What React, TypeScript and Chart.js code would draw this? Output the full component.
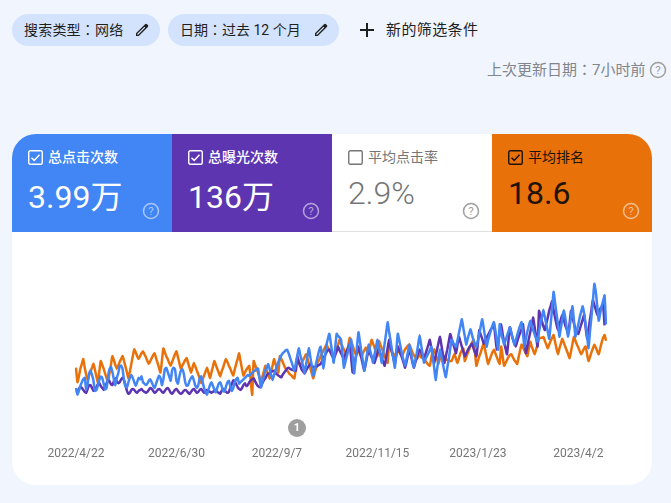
import React, { useEffect, useRef } from "react";
import { Chart, registerables } from "chart.js";

Chart.register(...registerables);

const startDate = "2022-04-22";
const tickLabels = ["2022/4/22", "2022/6/30", "2022/9/7", "2022/11/15", "2023/1/23", "2023/4/2"];
const tickIndexes = [0, 69, 138, 207, 276, 345];

const clicks = [
  52,43,48,55,60,64,66, 50,58,72,76,70,62,48, 49,55,63,68,66,58,50, 52,68,78,81,74,64,56,
  66,72,82,83,78,62,54, 53,60,66,70,66,60,55, 60,66,64,68,60,58,56, 58,62,64,60,55,52,58,
  64,69,66,56,64,78,80, 74,68,62,76,80,78,62, 58,68,76,78,72,60,55, 56,62,66,68,62,55,52,
  56,66,68,60,52,46,43, 50,56,60,55,50,46,52, 58,60,55,48,47,54,60, 62,54,48,52,60,64,66,
  58,60,62,64,66,68,70, 69,71,73,75,76,78,79, 66,53,60,68,76,80,85, 78,70,63,70,76,82,88,
  93,97,100,102,104,105,100,94,88,82,76,86,97,107,98,90,82,73,84,96,107,94,82,69,78,87,96,104,109,94,79,
  95,111,120,127,114,100,87,107,127,124,122,119,100,80,88,96,104,112,119,96,72,90,110,129,116,102,90,76,
  88,100,112,104,96,87,98,108,119,108,98,87,100,114,128,143,130,118,105,92,80,104,127,118,108,98,90,83,
  92,102,112,102,90,80,90,100,112,125,112,100,87,92,96,100,104,109,94,80,63,78,92,105,96,85,75,67,80,92,106,119,
  114,112,109,118,128,138,147,135,124,112,120,127,133,125,118,113,109,118,127,138,147,135,122,109,118,125,132,138,143,
  132,118,105,140,128,120,112,118,124,130,136,128,120,112,118,125,132,138,143,126,109,120,130,138,145,138,132,126,120,116,
  130,140,150,160,150,140,130,120,140,162,185,170,155,140,123,135,147,159,150,135,123,136,150,165,145,123,132,140,150,158,
  165,155,140,125,107,130,150,172,196,185,165,145,155,165,172,180,140,
];

const impressions = [
  1750,1800,1900,2000,1950,1850,1750, 1700,1900,2100,2100,1950,1800,1850, 2000,2150,2200,2050,1950,1850,2000,
  2200,2350,2300,2150,2100,2300,2450, 2300,2200,2250,2400,2500,2350,2100, 1800,1650,1700,1850,1900,1850,1750,
  1700,1800,1850,1900,1800,1750,1700, 1750,1850,1950,1900,1800,1700,1750, 1850,1900,1850,1750,1700,1800,1900,
  1950,1850,1700,1650,1750,1850,1900, 1800,1700,1650,1700,1800,1850,1800, 1700,1650,1750,1850,1900,1800,1700,
  1750,1850,1900,1800,1700,1750,1850, 1800,1750,1700,1750,1800,1850,1750, 1700,1650,1800,1900,1850,1750,1700,
  1750,1950,2150,2350,2300,2150,2000, 1900,1850,1950,2100,2200,2050,2100, 2250,2350,2400,2450,2300,2150,2050,
  2000,2000,2200,2350,2450,2600,2700, 2700,2780,2820,2850,2750,2650,2600,2550,2500,2650,2750,2850,2950,3000,
  2950,2900,2880,2860,2850,3600,3300,3100,2900,2800,2700,2850,3000,3100,3200,3100,3050,3000,3050,3100,3150,3200,
  3350,3500,3650,3800,3900,3950,3750,3600,3450,3650,3850,4100,3900,3750,3600,3450,3700,3900,4050,4200,3500,2750,
  3100,3500,3800,4100,3800,3500,3150,2850,3200,3600,3950,3750,3550,3400,3250,3500,3750,4000,3750,3500,3300,3100,
  3550,4000,4450,4100,3800,3500,3200,3650,4100,3900,3700,3500,3250,3000,3300,3650,3950,3650,3300,3000,3250,3500,
  3750,3950,3800,3600,3450,3700,3950,4200,4450,4050,3650,3250,3600,3950,4300,4600,4150,3700,3250,3600,3950,4350,4750,
  4500,4250,4000,3750,4200,4600,4350,4100,3850,3600,3750,3900,4050,4150,4250,4000,3800,3600,4250,4950,4700,4500,4250,
  4400,4550,4700,4850,5000,5100,5250,4600,3950,4400,4800,5250,4750,4350,4000,3700,4400,5100,4800,4500,4300,4100,
  4350,4600,4800,5000,5250,4500,3750,4100,4500,4850,5200,5600,5100,4600,4100,5950,5700,5400,5150,4950,5300,5600,5950,6200,6450,
  6000,5600,5250,4950,5250,5500,5750,5500,5200,5000,4750,5300,5950,5600,5300,5000,4900,4750,5000,5250,5500,5750,5100,4500,
  5000,5500,6000,6500,6250,6000,5750,5900,6050,6150,6250,5200,
];

const position = [
  19.6,21.1,20.5,19.7,19.2,18.7,19.6,20.3,20.9,20.4,20.0,19.6,19.2,19.8,20.5,21.1,20.0,18.9,19.3,19.7,20.2,20.7,21.1,20.2,19.3,18.4,
  18.8,19.3,19.7,19.4,19.0,18.7,18.4,18.9,19.5,20.1,20.7,20.0,19.2,18.4,17.7,18.0,18.4,18.7,18.4,18.1,17.9,18.2,18.5,18.9,19.2,
  18.9,18.6,18.3,18.1,18.6,19.1,19.6,20.1,18.9,17.6,18.0,18.4,18.7,19.1,19.4,19.0,18.6,18.2,17.9,18.5,19.1,19.7,19.4,19.1,18.8,18.6,
  19.1,19.6,20.1,19.6,19.1,19.5,19.9,20.3,20.7,21.2,20.8,20.4,20.0,19.6,20.1,20.7,20.1,19.5,18.9,19.3,19.7,20.1,20.5,20.0,19.6,19.1,18.7,
  19.0,19.4,19.7,20.1,20.4,19.8,19.2,18.7,18.1,18.9,19.7,20.4,20.1,19.8,19.6,19.4,20.9,22.4,18.9,19.3,19.7,20.1,20.6,21.1,20.5,20.0,19.4,
  19.9,20.3,20.7,20.0,19.4,18.7,19.2,19.7,20.1,18.4,18.7,19.0,19.4,19.7,19.9,20.1,20.3,20.4,20.6,20.7,19.6,18.6,19.0,19.4,19.1,18.8,18.5,18.2,
  18.7,19.2,19.7,20.2,20.7,20.1,19.6,19.0,18.8,18.4,18.1,17.8,17.5,17.2,17.5,17.8,18.0,18.2,18.4,18.0,17.6,17.2,16.7,17.1,17.4,17.7,18.0,18.2,
  17.3,16.5,16.9,17.3,17.8,18.2,18.0,17.8,18.2,18.5,18.1,17.8,17.5,17.9,18.2,17.4,16.7,17.1,17.5,18.0,18.4,16.8,17.2,17.6,18.0,18.4,18.7,19.1,
  17.2,17.6,18.0,18.2,18.4,18.0,17.7,18.0,18.2,18.4,18.0,17.7,17.5,17.3,17.2,17.6,18.0,18.3,18.5,18.7,18.5,18.2,18.5,18.6,18.7,18.9,19.1,19.3,19.4,
  18.6,17.9,17.7,18.2,18.7,19.2,18.6,18.1,18.3,18.5,18.7,18.8,18.9,18.9,18.9,18.5,18.2,18.7,19.1,18.6,18.1,17.8,17.6,18.9,18.5,18.1,17.7,17.3,17.0,16.7,
  18.0,19.4,18.9,18.4,18.0,17.5,17.1,17.8,18.5,19.2,18.8,18.4,18.0,17.7,18.1,18.5,18.9,19.2,17.4,18.4,19.4,19.1,18.8,18.5,18.3,18.2,18.5,18.8,19.0,19.2,
  18.5,17.8,17.2,17.5,17.8,18.1,18.4,17.6,16.9,17.4,17.8,18.2,17.7,17.2,16.6,16.5,16.5,16.4,16.8,17.2,17.6,17.2,16.8,16.5,16.2,16.9,17.6,18.2,17.6,17.1,16.6,
  17.0,17.4,17.8,18.2,18.6,17.9,17.1,16.4,16.8,17.2,17.5,17.9,18.2,17.9,17.6,17.4,18.2,18.9,18.5,18.0,17.6,17.2,17.5,17.9,18.2,17.6,17.0,16.5,16.2,16.8,
];

const dayCount = Math.max(clicks.length, impressions.length, position.length);
const categories = Array.from({ length: dayCount }, (_, i) => {
  const d = new Date(startDate + "T00:00:00Z");
  d.setUTCDate(d.getUTCDate() + i);
  return `${d.getUTCFullYear()}/${d.getUTCMonth() + 1}/${d.getUTCDate()}`;
});

const FONT = 'Roboto, "Noto Sans CJK SC", sans-serif';
const FONT_TC = 'Roboto, "Noto Sans CJK TC", sans-serif';

const Pencil = ({ x, y }: { x: number; y: number }) => (
  <svg style={{ position: "absolute", left: x, top: y }} width="16" height="16" viewBox="0 0 24 24">
    <path fill="#1f1f1f" d="M3 21v-4.2L16.6 3.2a2 2 0 0 1 2.8 0l1.4 1.4a2 2 0 0 1 0 2.8L7.2 21H3zm2-2h1.3L17 8.3 15.7 7 5 17.7V19z" />
  </svg>
);

const Help = ({ x, y, color }: { x: number; y: number; color: string }) => (
  <svg style={{ position: "absolute", left: x - 9, top: y - 9 }} width="18" height="18" viewBox="0 0 18 18">
    <circle cx="9" cy="9" r="7.5" fill="none" stroke={color} strokeWidth="1.5" />
    <text x="9" y="13" textAnchor="middle" fontSize="11.5" fontFamily="Roboto" fill={color}>?</text>
  </svg>
);

const Check = ({ x, y, color, checked }: { x: number; y: number; color: string; checked: boolean }) => (
  <svg style={{ position: "absolute", left: x, top: y }} width="15" height="15" viewBox="0 0 15 15">
    <rect x="0.75" y="0.75" width="13.5" height="13.5" rx="1.5" fill="none" stroke={color} strokeWidth="1.4" />
    {checked && <path d="M3.5 7.8 6.2 10.4 11.5 4.8" fill="none" stroke={color} strokeWidth="1.5" />}
  </svg>
);

const Txt = ({ x, y, size, color, children, weight, spacing, family }: any) => (
  <div style={{ position: "absolute", left: x, top: y, fontSize: size, color, fontWeight: weight ?? 400, lineHeight: "20px", whiteSpace: "nowrap", fontFamily: family ?? FONT, letterSpacing: spacing ?? 0 }}>
    {children}
  </div>
);

const tiles = [
  { x: 12, bg: "#4285f4", fg: "#ffffff", help: "rgba(255,255,255,0.55)", title: "总点击次数", value: "3.99万", checked: true, weight: 500, top: 175, valueWeight: 400 },
  { x: 172, bg: "#5e35b1", fg: "#ffffff", help: "rgba(255,255,255,0.55)", title: "总曝光次数", value: "136万", checked: true, weight: 500, top: 175, valueWeight: 400 },
  { x: 332, bg: "#ffffff", fg: "#757575", help: "#9e9e9e", title: "平均点击率", value: "2.9%", checked: false, weight: 400, top: 171, valueWeight: 300 },
  { x: 492, bg: "#e8710a", fg: "#1f1206", help: "rgba(255,255,255,0.55)", title: "平均排名", value: "18.6", checked: true, weight: 400, top: 171, valueWeight: 400 },
];

export default function App() {
  const ref = useRef<HTMLCanvasElement>(null);

  useEffect(() => {
    document.body.style.margin = "0";
    document.body.style.background = "#f1f5fe";
    const chart = new Chart(ref.current!, {
      type: "line",
      data: {
        labels: categories,
        datasets: [
          { label: "总点击次数", data: clicks, yAxisID: "yClicks", borderColor: "#4285f4", borderWidth: 2.5, pointRadius: 0, tension: 0.15 },
          { label: "总曝光次数", data: impressions, yAxisID: "yImpressions", borderColor: "#5e35b1", borderWidth: 2.5, pointRadius: 0, tension: 0.15 },
          { label: "平均排名", data: position, yAxisID: "yPosition", borderColor: "#e8710a", borderWidth: 2.5, pointRadius: 0, tension: 0.15 },
        ],
      },
      options: {
        animation: false,
        responsive: false,
        layout: { padding: { left: 64, right: 46, top: 20, bottom: 11 } },
        plugins: { legend: { display: false }, tooltip: { enabled: false } },
        scales: {
          x: {
            type: "category",
            grid: { display: false },
            border: { display: false },
            ticks: {
              autoSkip: false,
              maxRotation: 0,
              padding: 13,
              color: "#757575",
              font: { family: "Roboto", size: 12 },
              callback: (_v: any, i: number) => {
                const k = tickIndexes.indexOf(i);
                return k >= 0 ? tickLabels[k] : null;
              },
            },
          },
          yClicks: { display: false, min: 0, max: 240 },
          yImpressions: { display: false, min: 0, max: 9000 },
          yPosition: { display: false, min: 7.6, max: 25.6, reverse: true },
        },
      },
    } as any);
    return () => chart.destroy();
  }, []);

  return (
    <div style={{ position: "relative", width: 671, height: 503, overflow: "hidden", background: "#f1f5fe", fontFamily: FONT }}>
      <div style={{ position: "absolute", left: 12, top: 14, width: 148, height: 32, borderRadius: 16, background: "#d3e3fd" }} />
      <Txt x={24} y={20} size={14} color="#1f1f1f" family={FONT_TC} spacing={0.2}>搜索类型：网络</Txt>
      <Pencil x={134} y={22} />
      <div style={{ position: "absolute", left: 168, top: 14, width: 171, height: 32, borderRadius: 16, background: "#d3e3fd" }} />
      <Txt x={180} y={20} size={14} color="#1f1f1f" family={FONT_TC}>日期：过去 12 个月</Txt>
      <Pencil x={313} y={22} />
      <svg style={{ position: "absolute", left: 359, top: 22 }} width="16" height="16" viewBox="0 0 16 16">
        <path d="M8 1v14M1 8h14" stroke="#1f1f1f" strokeWidth="2" />
      </svg>
      <Txt x={386} y={20} size={15} color="#1f1f1f" spacing={0.4}>新的筛选条件</Txt>
      <Txt x={487} y={60} size={15} color="#80868b" family={FONT_TC}>上次更新日期：7小时前</Txt>
      <Help x={658} y={70} color="#9e9e9e" />

      <div style={{ position: "absolute", left: 12, top: 134, width: 640, height: 351, background: "#fff", borderRadius: 24, overflow: "hidden" }}>
        {tiles.map((t) => (
          <div key={t.x} style={{ position: "absolute", left: t.x - 12, top: 0, width: 160, height: 98, background: t.bg, borderBottom: t.bg === "#ffffff" ? "1px solid #e0e0e0" : "none", boxSizing: "border-box" }} />
        ))}
      </div>
      {tiles.map((t) => (
        <React.Fragment key={t.x}>
          <Check x={t.x + 16} y={150} color={t.bg === "#ffffff" ? "#757575" : t.fg} checked={t.checked} />
          <Txt x={t.x + 36} y={147} size={14} color={t.fg} weight={t.weight}>{t.title}</Txt>
          <div style={{ position: "absolute", left: t.x + 16, top: t.top, fontSize: 32, fontWeight: t.valueWeight, lineHeight: "44px", color: t.fg, whiteSpace: "nowrap", fontFamily: FONT }}>{t.value}</div>
          <Help x={t.x + 139} y={211} color={t.help} />
        </React.Fragment>
      ))}

      <canvas ref={ref} width={640} height={253} style={{ position: "absolute", left: 12, top: 232, display: "block" }} />
      <div style={{ position: "absolute", left: 288, top: 419, width: 18, height: 18, borderRadius: 9, background: "#9e9e9e", color: "#fff", fontSize: 11, fontWeight: 700, lineHeight: "18px", textAlign: "center" }}>1</div>
    </div>
  );
}
